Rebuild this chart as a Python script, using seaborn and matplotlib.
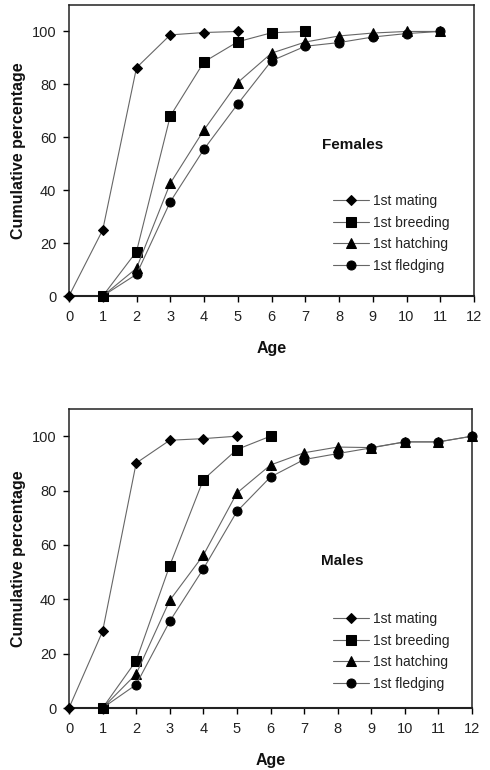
import matplotlib
matplotlib.use("Agg")
import matplotlib.pyplot as plt
import seaborn as sns
import pandas as pd

sns.set_theme(style="white")
plt.rcParams['font.family'] = ['Liberation Sans', 'DejaVu Sans']

series_names = ["1st mating", "1st breeding", "1st hatching", "1st fledging"]
series_markers = ["D", "s", "^", "o"]
x_ticks = list(range(0, 13))
y_ticks = [0, 20, 40, 60, 80, 100]

# Females
f_mating_age = [0, 1, 2, 3, 4, 5]
f_mating = [0, 25.0, 86.3, 98.7, 99.6, 100]
f_breeding_age = [1, 2, 3, 4, 5, 6, 7]
f_breeding = [0, 16.8, 68.0, 88.5, 96.1, 99.5, 100]
f_hatching_age = [1, 2, 3, 4, 5, 6, 7, 8, 9, 10, 11]
f_hatching = [0, 10.5, 42.6, 62.8, 80.7, 91.8, 96.0, 98.3, 99.4, 100, 100]
f_fledging_age = [1, 2, 3, 4, 5, 6, 7, 8, 9, 10, 11]
f_fledging = [0, 8.2, 35.6, 55.5, 72.6, 88.9, 94.4, 95.8, 97.9, 99.2, 100]

# Males
m_mating_age = [0, 1, 2, 3, 4, 5]
m_mating = [0, 28.2, 90.1, 98.5, 99.1, 100]
m_breeding_age = [1, 2, 3, 4, 5, 6]
m_breeding = [0, 17.4, 52.4, 84.0, 95.1, 100]
m_hatching_age = [1, 2, 3, 4, 5, 6, 7, 8, 9, 10, 11, 12]
m_hatching = [0, 12.5, 39.6, 56.2, 79.1, 89.4, 93.9, 96.0, 95.8, 97.9, 97.9, 100]
m_fledging_age = [1, 2, 3, 4, 5, 6, 7, 8, 9, 10, 11, 12]
m_fledging = [0, 8.6, 31.9, 51.2, 72.3, 85.0, 91.4, 93.6, 95.7, 97.9, 97.9, 100]

panels = [
    ("Females", [(f_mating_age, f_mating), (f_breeding_age, f_breeding),
                 (f_hatching_age, f_hatching), (f_fledging_age, f_fledging)], 57),
    ("Males", [(m_mating_age, m_mating), (m_breeding_age, m_breeding),
               (m_hatching_age, m_hatching), (m_fledging_age, m_fledging)], 54),
]

fig = plt.figure(figsize=(4.9, 7.7), dpi=100)
ax_rects = [
    [69/490, 1-296/770, (474-69)/490, (296-5)/770],
    [69/490, 1-708/770, (472-69)/490, (708-409)/770],
]
legend_anchor_y = [1-(187)/770, 1-(605)/770]
msizes = {"D": 5.5, "s": 6.5, "^": 6.5, "o": 6.5}

for (title, data, ty), rect, ly in zip(panels, ax_rects, legend_anchor_y):
    ax = fig.add_axes(rect)
    for name, mk, (xs, ys) in zip(series_names, series_markers, data):
        df = pd.DataFrame({"Age": xs, "pct": ys})
        sns.lineplot(data=df, x="Age", y="pct", ax=ax, color="0.4", linewidth=0.8,
                     marker=mk, markersize=msizes[mk], markerfacecolor="black",
                     markeredgecolor="black", label=name, clip_on=False, zorder=3)
    ax.set_xlim(0, 12)
    ax.set_ylim(0, 110)
    ax.set_xticks(x_ticks)
    ax.set_yticks(y_ticks)
    ax.tick_params(axis="both", direction="out", length=4, width=1, color="black",
                   labelsize=10.5, bottom=True, left=True, labelcolor="#222222")
    ax.tick_params(axis="x", pad=6)
    ax.tick_params(axis="y", pad=5)
    for sp in ax.spines.values():
        sp.set_color("#222222")
        sp.set_linewidth(1.1)
    ax.spines["bottom"].set_linewidth(1.5)
    ax.set_xlabel("Age", fontsize=11.5, fontweight="bold", labelpad=12, color="#111111")
    ax.set_ylabel("Cumulative percentage", fontsize=11.5, fontweight="bold", labelpad=4,
                  color="#111111")
    ax.text(7.5, ty, title, fontsize=11, fontweight="bold", va="center", ha="left",
            color="#111111")
    leg = ax.legend(loc="upper left", bbox_to_anchor=(326/490, ly), bbox_transform=fig.transFigure,
                    frameon=False, fontsize=10, handlelength=2.6, handletextpad=0.3,
                    labelspacing=0.55, borderpad=0)
    for t in leg.get_texts():
        t.set_color("#222222")

fig.savefig("out.png", dpi=100)
